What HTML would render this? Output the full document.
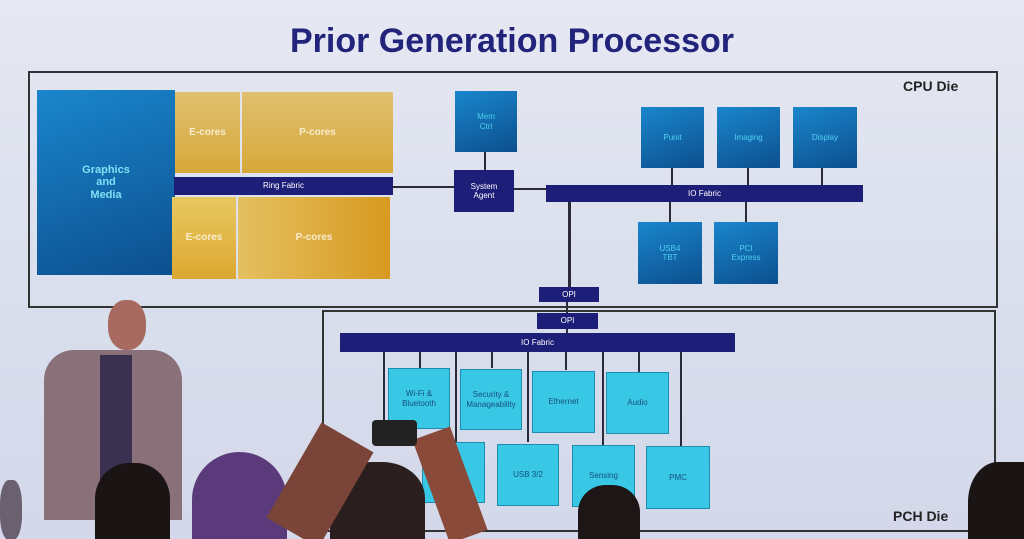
<!DOCTYPE html>
<html style="overflow:hidden"><head><style>
html,body{margin:0;width:1024px;height:539px;overflow:hidden}
body{background:#dde2ee;font-family:"Liberation Sans",sans-serif;position:relative}
div{position:absolute;box-sizing:border-box}
.t{display:flex;align-items:center;justify-content:center;text-align:center;line-height:1.15}
.blue{background:linear-gradient(160deg,#1a86cc,#0c4f8e);color:#4fd0f0;font-size:8px}
.cy{background:#38c8e6;border:1px solid #1d8cae;color:#17507a;font-size:8px}
.nv{background:#1c1e78;color:#fff;font-size:8px}
.gold{background:linear-gradient(180deg,#e0c070,#d6a838);color:#f8ecd0;font-weight:bold;font-size:10px}
.l{background:#2a2a3a}
#clip{left:0;top:0;width:1024px;height:539px;overflow:hidden}
</style></head><body>
<div id="clip">
<div style="left:0;top:0;width:1024px;height:539px;background:linear-gradient(180deg,#e6e8f2,#d8deec 60%,#d4d8ea)"></div>
<div class="t" style="left:162px;top:20px;width:700px;height:44px;font-size:34px;font-weight:bold;color:#22237a">Prior Generation Processor</div>
<div style="left:28px;top:71px;width:970px;height:237px;border:2px solid #333"></div>
<div style="left:903px;top:78px;font-size:14px;font-weight:bold;color:#222">CPU Die</div>
<div class="t blue" style="left:37px;top:90px;width:138px;height:185px;font-size:11px;color:#7fe0f5;font-weight:bold">Graphics<br>and<br>Media</div>
<div class="t gold" style="left:175px;top:92px;width:65px;height:81px">E-cores</div>
<div class="t gold" style="left:242px;top:92px;width:151px;height:81px">P-cores</div>
<div class="t nv" style="left:174px;top:177px;width:219px;height:18px">Ring Fabric</div>
<div class="t gold" style="left:172px;top:197px;width:64px;height:82px;background:linear-gradient(180deg,#e8c860,#dca830)">E-cores</div>
<div class="t gold" style="left:238px;top:197px;width:152px;height:82px;background:linear-gradient(90deg,#e4c060,#d89a20)">P-cores</div>
<div class="l" style="left:392px;top:186px;width:63px;height:2px"></div>
<div class="t blue" style="left:455px;top:91px;width:62px;height:61px">Mem<br>Ctrl</div>
<div class="l" style="left:484px;top:152px;width:2px;height:18px"></div>
<div class="t nv" style="left:454px;top:170px;width:60px;height:42px">System<br>Agent</div>
<div class="l" style="left:514px;top:188px;width:32px;height:2px"></div>
<div class="t nv" style="left:546px;top:185px;width:317px;height:17px">IO Fabric</div>
<div class="t blue" style="left:641px;top:107px;width:63px;height:61px">Punit</div>
<div class="t blue" style="left:717px;top:107px;width:63px;height:61px">Imaging</div>
<div class="t blue" style="left:793px;top:107px;width:64px;height:61px">Display</div>
<div class="l" style="left:671px;top:168px;width:2px;height:17px"></div>
<div class="l" style="left:747px;top:168px;width:2px;height:17px"></div>
<div class="l" style="left:821px;top:168px;width:2px;height:17px"></div>
<div class="l" style="left:669px;top:202px;width:2px;height:20px"></div>
<div class="l" style="left:745px;top:202px;width:2px;height:20px"></div>
<div class="t blue" style="left:638px;top:222px;width:64px;height:62px">USB4<br>TBT</div>
<div class="t blue" style="left:714px;top:222px;width:64px;height:62px">PCI<br>Express</div>
<div class="l" style="left:568px;top:202px;width:3px;height:85px"></div>
<div class="t nv" style="left:539px;top:287px;width:60px;height:15px">OPI</div>
<div class="l" style="left:566px;top:302px;width:2px;height:12px"></div>
<div style="left:322px;top:310px;width:674px;height:222px;border:2px solid #333"></div>
<div class="t nv" style="left:537px;top:313px;width:61px;height:16px">OPI</div>
<div class="l" style="left:566px;top:329px;width:2px;height:5px"></div>
<div class="t nv" style="left:340px;top:333px;width:395px;height:19px">IO Fabric</div>
<div class="l" style="left:383px;top:352px;width:2px;height:90px"></div>
<div class="l" style="left:419px;top:352px;width:2px;height:16px"></div>
<div class="l" style="left:455px;top:352px;width:2px;height:90px"></div>
<div class="l" style="left:491px;top:352px;width:2px;height:16px"></div>
<div class="l" style="left:527px;top:352px;width:2px;height:90px"></div>
<div class="l" style="left:565px;top:352px;width:2px;height:18px"></div>
<div class="l" style="left:602px;top:352px;width:2px;height:94px"></div>
<div class="l" style="left:638px;top:352px;width:2px;height:20px"></div>
<div class="l" style="left:680px;top:352px;width:2px;height:94px"></div>
<div class="t cy" style="left:388px;top:368px;width:62px;height:61px">Wi-Fi &amp;<br>Bluetooth</div>
<div class="t cy" style="left:460px;top:369px;width:62px;height:61px">Security &amp;<br>Manageability</div>
<div class="t cy" style="left:532px;top:371px;width:63px;height:62px">Ethernet</div>
<div class="t cy" style="left:606px;top:372px;width:63px;height:62px">Audio</div>
<div class="t cy" style="left:422px;top:442px;width:63px;height:61px">SATA</div>
<div class="t cy" style="left:497px;top:444px;width:62px;height:62px">USB 3/2</div>
<div class="t cy" style="left:572px;top:445px;width:63px;height:62px">Sensing</div>
<div class="t cy" style="left:646px;top:446px;width:64px;height:63px">PMC</div>
<div style="left:893px;top:508px;font-size:14px;font-weight:bold;color:#222">PCH Die</div>
<div style="left:108px;top:300px;width:38px;height:50px;border-radius:45%;background:#a86a60"></div>
<div style="left:44px;top:350px;width:138px;height:170px;border-radius:30px 30px 0 0;background:#8a7078"></div>
<div style="left:100px;top:355px;width:32px;height:160px;background:#3a3050"></div>
<div style="left:95px;top:463px;width:75px;height:80px;border-radius:45% 45% 0 0;background:#1a1414"></div>
<div style="left:192px;top:452px;width:95px;height:95px;border-radius:50% 50% 0 0;background:#5a3a7a"></div>
<div style="left:0px;top:480px;width:22px;height:60px;border-radius:40%;background:#6a6070"></div>
<div style="left:330px;top:462px;width:95px;height:80px;border-radius:45% 45% 0 0;background:#2a1e1e"></div>
<div style="left:290px;top:430px;width:60px;height:110px;background:#7a4438;transform:rotate(30deg)"></div>
<div style="left:430px;top:430px;width:40px;height:110px;background:#8a4a3a;transform:rotate(-20deg)"></div>
<div style="left:372px;top:420px;width:45px;height:26px;background:#222;border-radius:4px"></div>
<div style="left:578px;top:485px;width:62px;height:60px;border-radius:45% 45% 0 0;background:#1e1616"></div>
<div style="left:968px;top:462px;width:60px;height:80px;border-radius:50% 0 0 0;background:#1a1414"></div>
</div>
</body></html>
